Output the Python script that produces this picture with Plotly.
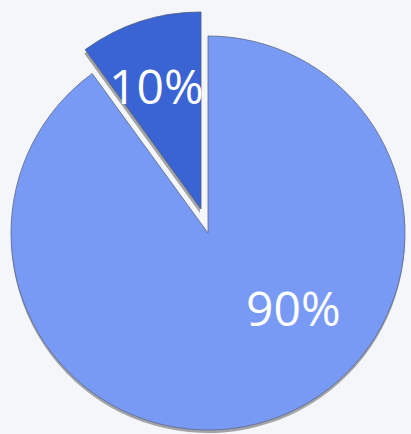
import math
import plotly.graph_objects as go

labels = ["Other", "Highlighted"]
values = [90, 10]
main_color = "#789af5"
accent_color = "#3a64d4"

W, H = 411, 434
R = 197
main_center = (208, 233)
pulled_center = (201, 209)
# label placement: (angle clockwise from 12 o'clock in degrees, fraction of radius)
label_place = [(131, 0.574), (-20, 0.665)]


def domain(cx, cy, r):
    return dict(x=[(cx - r) / W, (cx + r) / W],
                y=[1 - (cy + r) / H, 1 - (cy - r) / H])


def shifted(c, dx, dy):
    return (c[0] + dx, c[1] + dy)


clear = "rgba(0,0,0,0)"
common = dict(labels=labels, values=values, sort=False, direction="clockwise",
              rotation=0, textinfo="none", showlegend=False)

fig = go.Figure()
# shadow of main slice
fig.add_trace(go.Pie(**common, domain=domain(*shifted(main_center, 0, 3), R),
                     hoverinfo="skip",
                     marker=dict(colors=["rgba(40,40,50,0.4)", clear])))
# main slice
fig.add_trace(go.Pie(**common, domain=domain(*main_center, R),
                     hoverinfo="label+percent",
                     marker=dict(colors=[main_color, clear],
                                 line=dict(color=["#5a6886", clear], width=0.8))))
# shadow of pulled slice
fig.add_trace(go.Pie(**common, domain=domain(*shifted(pulled_center, -1, 4), R),
                     hoverinfo="skip",
                     marker=dict(colors=[clear, "rgba(60,60,60,0.45)"])))
# pulled slice
fig.add_trace(go.Pie(**common, domain=domain(*pulled_center, R),
                     hoverinfo="label+percent",
                     marker=dict(colors=[clear, accent_color],
                                 line=dict(color=[clear, "#4a5a80"], width=0.8))))

total = sum(values)
centers = [main_center, pulled_center]
for v, c, (ang, frac) in zip(values, centers, label_place):
    a = math.radians(ang)
    px = c[0] + frac * R * math.sin(a)
    py = c[1] - frac * R * math.cos(a)
    fig.add_annotation(x=px / W, y=1 - py / H, xref="paper", yref="paper",
                       text=f"{v / total * 100:.0f}%", showarrow=False,
                       font=dict(family="Open Sans", size=48, color="white"),
                       xanchor="center", yanchor="middle")

fig.update_layout(width=W, height=H, margin=dict(l=0, r=0, t=0, b=0),
                  paper_bgcolor="#f4f6f9", plot_bgcolor="#f4f6f9")
fig.write_html("out.html", config={"displayModeBar": False},
               post_script="document.body.style.margin='0';document.body.style.background='#f4f6f9';")
